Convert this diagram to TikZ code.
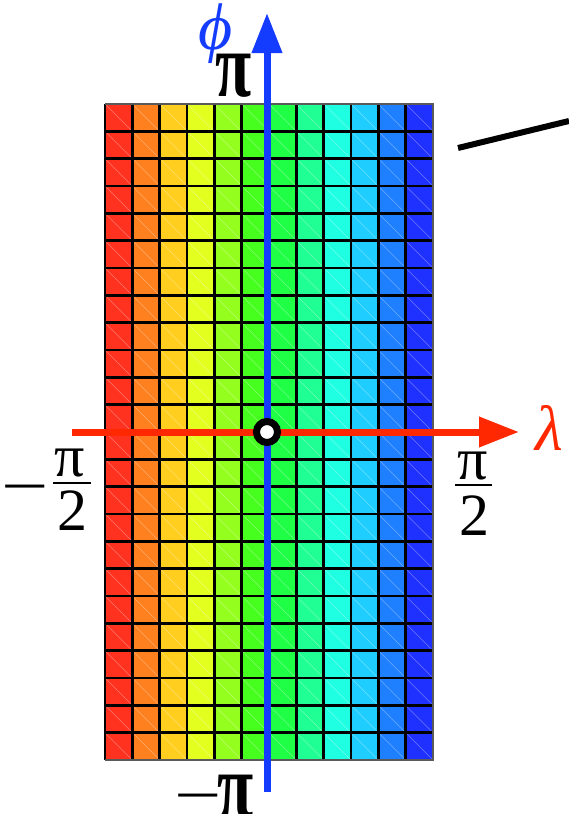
\documentclass[tikz,border=0pt]{standalone}
\usepackage{fontspec}
\setmainfont{Liberation Serif}
\usetikzlibrary{arrows.meta}
\definecolor{axblue}{RGB}{20,60,255}
\definecolor{axred}{RGB}{255,40,0}
\definecolor{bordergray}{RGB}{90,90,90}
\tikzset{
  lab/.style={inner sep=0pt, font=\fontsize{60}{60}\selectfont},
  bigpi/.style={inner sep=0pt, font=\fontsize{66}{66}\selectfont\bfseries, yscale=1.4},
  minus/.style={inner sep=0pt, font=\fontsize{60}{60}\selectfont, xscale=1.4},
  gridline/.style={black, line width=2.4pt},
  diag/.style={white, opacity=0.35, line width=0.5pt},
  axis/.style={line width=7pt, -{Triangle[length=40pt,width=29pt]}},
  fracbar/.style={black, line width=2pt},
}
\begin{document}
\begin{tikzpicture}[x=1pt,y=-1pt]
\useasboundingbox (0,0) rectangle (569,814);
\def\cw{27.3333}
% coloured cells
\foreach \i in {0,...,11}{
  \pgfmathsetmacro\h{(5+\i*230/11)/360}
  \definecolor{cc}{hsb}{\h,0.88,1}
  \foreach \j in {0,...,23}{
    \fill[cc] (105+\i*\cw,104+\j*\cw) rectangle ++(\cw,\cw);
    \draw[diag] (105+\i*\cw,104+\j*\cw) -- ++(\cw,\cw);
  }
}
% grid lines
\foreach \i in {1,...,11}{
  \draw[gridline] (105+\i*\cw,104) -- (105+\i*\cw,760);
}
\foreach \j in {1,...,23}{
  \draw[gridline] (105,104+\j*\cw) -- (433,104+\j*\cw);
}
\draw[gridline] (105,104) -- (105,760);
\draw[bordergray, line width=2.4pt] (105,104) -- (433,104) -- (433,760) -- (105,760);
% axes
\coordinate (hl) at (72,432);
\coordinate (hr) at (519,432);
\coordinate (vb) at (267,792);
\coordinate (vt) at (267,13);
\draw[axis, axred] (hl) -- (hr);
\draw[axis, axblue] (vb) -- (vt);
\node[circle, draw=black, fill=white, line width=7pt, minimum size=21pt, inner sep=0pt] (o) at (267,432) {};
% black segment top right
\coordinate (s1) at (458,148);
\coordinate (s2) at (569,121);
\draw[black, line width=6pt] (s1) -- (s2);
% labels
\node[lab, axblue, font=\fontsize{66}{66}\selectfont\itshape] (phi) at (216,34) {ϕ};
\node[lab, axred, font=\fontsize{64}{64}\selectfont\itshape] (lam) at (549,428) {λ};
\node[bigpi] (pitop) at (234,76) {π};
\node[bigpi] (pibot) at (236,797) {π};
\node[minus] (mbot) at (198,805) {−};
% right fraction
\node[lab] (rnum) at (473,466) {π};
\coordinate (rb1) at (455,485);
\coordinate (rb2) at (492,485);
\draw[fracbar] (rb1) -- (rb2);
\node[lab] (rden) at (474,516) {2};
% left fraction
\node[lab] (lnum) at (70,463) {π};
\coordinate (lb1) at (53,483);
\coordinate (lb2) at (91,483);
\draw[fracbar] (lb1) -- (lb2);
\node[lab] (lden) at (72,511) {2};
\node[minus] (lmin) at (25,496) {−};
\end{tikzpicture}
\end{document}
